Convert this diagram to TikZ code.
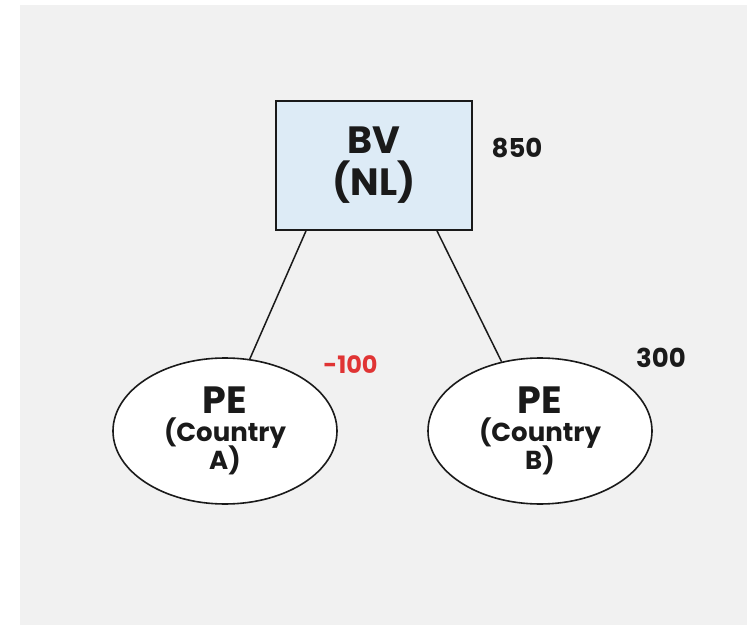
\documentclass[tikz,border=0pt]{standalone}
\usepackage{fontspec}
\setmainfont{Poppins}
\usetikzlibrary{shapes.geometric,positioning}
\definecolor{panel}{HTML}{F1F1F1}
\definecolor{boxblue}{HTML}{DDEBF6}
\definecolor{ink}{HTML}{1A1A1A}
\definecolor{neg}{HTML}{E03434}
\newcommand{\bigline}[1]{{\fontsize{38}{38}\selectfont #1}}
\newcommand{\smallline}[1]{{\fontsize{26}{26}\selectfont #1}}
\tikzset{
  entity/.style={draw=ink, line width=1.8pt, fill=boxblue, minimum width=196pt, minimum height=129pt, align=center, inner sep=0pt, text=ink, font=\bfseries\fontsize{38}{38}\selectfont},
  pe/.style={draw=ink, line width=1.6pt, fill=white, ellipse, minimum width=224pt, minimum height=146pt, align=center, inner sep=0pt, text=ink, font=\bfseries\fontsize{26}{26}\selectfont},
  amount/.style={font=\bfseries\fontsize{26}{26}\selectfont, text=ink, inner sep=0pt},
  link/.style={draw=ink, line width=1.5pt}
}
\begin{document}
\begin{tikzpicture}[x=1pt,y=1pt]
\useasboundingbox (0,0) rectangle (747,625);
\fill[white] (0,0) rectangle (747,625);
\fill[panel] (20,0) rectangle (747,620);
\node[entity] (bv) at (374,459.5) {BV\\[4pt](NL)};
\node[pe] (peA) at (225,194) {\bigline{PE}\\[2pt]\smallline{(Country}\\[-4pt]\smallline{A)}};
\node[pe] (peB) at (540,194) {\bigline{PE}\\[2pt]\smallline{(Country}\\[-4pt]\smallline{B)}};
\node[amount] (v850) at (517,477) {850};
\node[amount, text=neg, font=\bfseries\fontsize{24}{24}\selectfont] (vA) at (350.5,260.5) {-100};
\node[amount] (vB) at (661,267.5) {300};
\coordinate (bvl) at ([xshift=-68pt]bv.south);
\coordinate (bvr) at ([xshift=63pt]bv.south);
\draw[link] (bvl) -- (peA.71);
\draw[link] (bvr) -- (peB.119);
\end{tikzpicture}
\end{document}
